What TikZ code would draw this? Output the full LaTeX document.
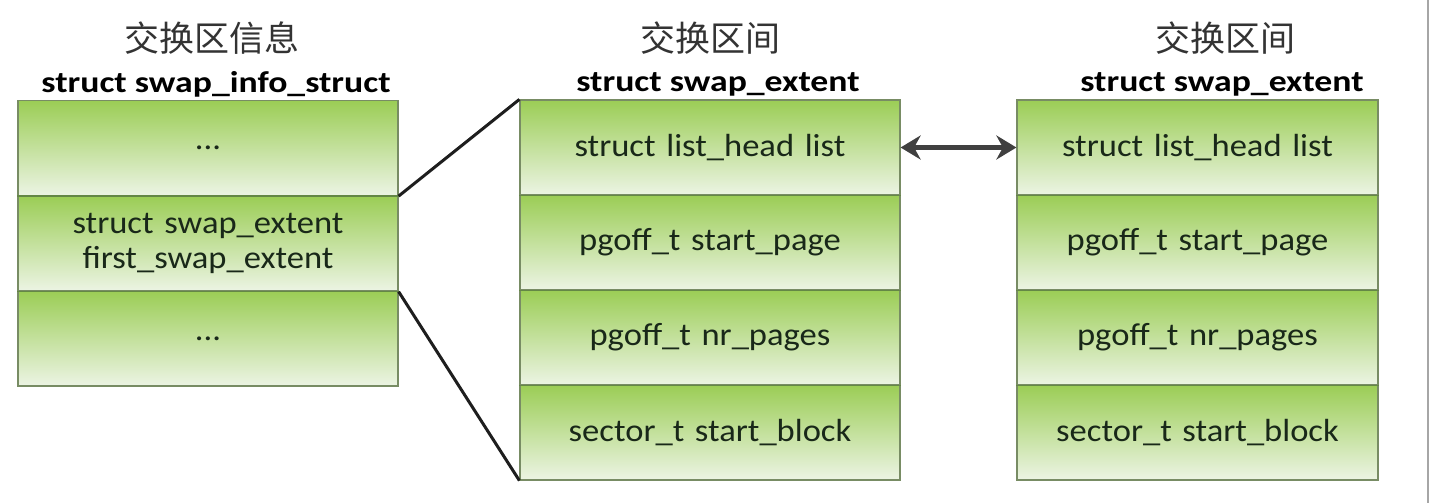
\documentclass[tikz,border=0pt]{standalone}
\usepackage{fontspec}
\setmainfont{Carlito}
\newfontfamily\cellfont{Carlito}[FakeStretch=1.08]
\newfontfamily\titlefont{Carlito}[FakeStretch=1.19]
\newfontfamily\cjk{Noto Sans CJK SC}
\usetikzlibrary{arrows.meta,backgrounds,calc}
\definecolor{gtop}{RGB}{155,205,85}
\definecolor{gbot}{RGB}{236,244,228}
\definecolor{gedge}{RGB}{120,140,100}
\definecolor{gsep}{RGB}{100,135,70}
\definecolor{txt}{RGB}{25,40,25}
\definecolor{linec}{RGB}{30,30,30}
\begin{document}
\begin{tikzpicture}[x=1pt,y=-1pt,
  cell/.style={rectangle,draw=gedge,line width=1.2pt,top color=gtop,bottom color=gbot,
    minimum height=95pt,inner sep=0pt,align=center,text=txt,
    font=\cellfont\fontsize{32}{35}\selectfont},
  lcell/.style={cell,minimum width=380pt,text width=370pt},
  rcell/.style={cell,minimum width=361pt,text width=350pt},
  cntitle/.style={font=\cjk\fontsize{35}{38}\selectfont,text=black!80,inner sep=0pt},
  sttitle/.style={font=\titlefont\bfseries\fontsize{30}{33}\selectfont,text=black,inner sep=0pt},
  zoomline/.style={draw=linec,line width=3pt},
  dblarrow/.style={draw=black!75,line width=5pt,{Stealth[length=20pt,width=24pt]}-{Stealth[length=20pt,width=24pt]}},
  shadowc/.style={fill=black,opacity=0.07}
]
\useasboundingbox (0,0) rectangle (1430,503);
\fill[white] (0,0) rectangle (1430,503);
\draw[gray!70,line width=2pt] (1428,0) -- (1428,503);

% titles
\node[cntitle] (t1) at (212,38) {交换区信息};
\node[sttitle] (s1) at (216,84) {struct swap\_info\_struct};
\node[cntitle] (t2) at (710,38) {交换区间};
\node[sttitle] (s2) at (718,84) {struct swap\_extent};
\node[cntitle] (t3) at (1225,38) {交换区间};
\node[sttitle] (s3) at (1222,84) {struct swap\_extent};

% left box
\node[lcell] (L1) at (208,148) {...};
\node[lcell] (L2) at (208,243.5) {struct swap\_extent\\first\_swap\_extent};
\node[lcell] (L3) at (208,338.5) {...};

% middle box
\node[lcell] (M1) at (710,147.5) {struct list\_head list};
\node[lcell] (M2) at (710,242.5) {pgoff\_t start\_page};
\node[lcell] (M3) at (710,337.5) {pgoff\_t nr\_pages};
\node[lcell] (M4) at (710,432.5) {sector\_t start\_block};

% right box
\node[rcell] (R1) at (1197.5,147.5) {struct list\_head list};
\node[rcell] (R2) at (1197.5,242.5) {pgoff\_t start\_page};
\node[rcell] (R3) at (1197.5,337.5) {pgoff\_t nr\_pages};
\node[rcell] (R4) at (1197.5,432.5) {sector\_t start\_block};

% shadows
\begin{scope}[on background layer]
  \foreach \a/\b in {L1/L3,M1/M4,R1/R4}{
    \foreach \d in {2,4,6,8}{
      \fill[shadowc] ($(\a.north west)+(\d,\d)$) rectangle ($(\b.south east)+(\d,\d)$);
    }
  }
\end{scope}

% separators
\foreach \n in {L1,L2,M1,M2,M3,R1,R2,R3}{
  \draw[gsep,line width=1.5pt] (\n.south west) -- (\n.south east);
}

% zoom lines
\draw[zoomline] (L1.south east) -- (M1.north west);
\draw[zoomline] (L2.south east) -- (M4.south west);

% list link
\draw[dblarrow] (M1.east) -- (R1.west);
\end{tikzpicture}
\end{document}
